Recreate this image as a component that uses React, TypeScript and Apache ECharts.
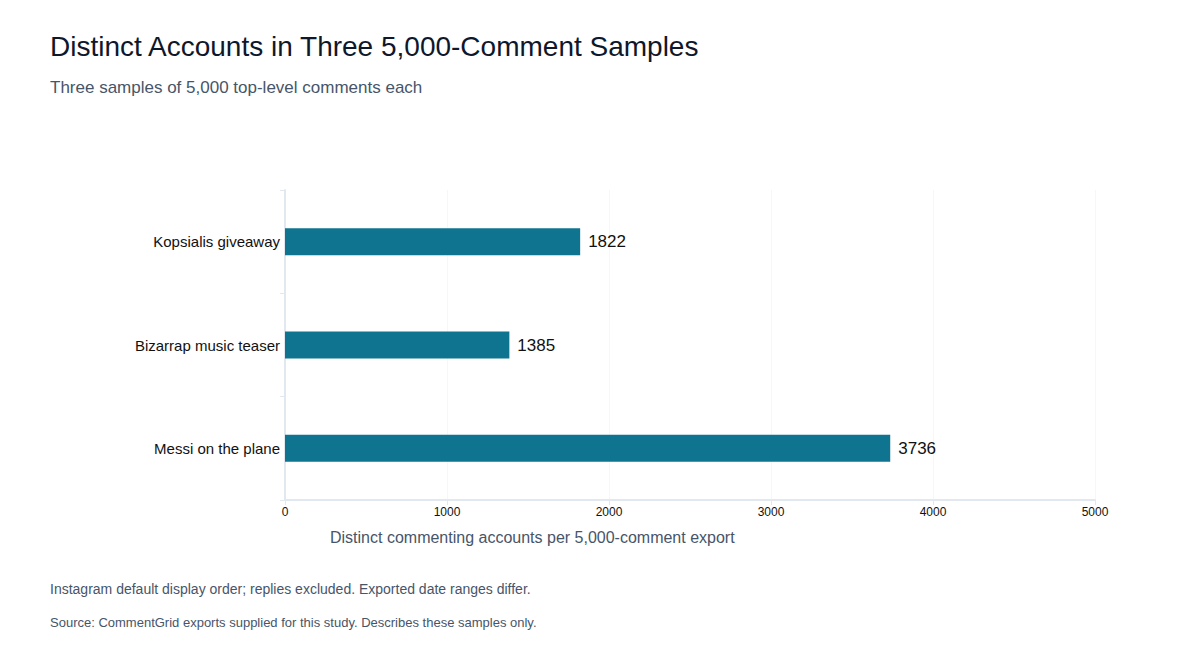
import { useEffect, useRef } from "react";
import * as echarts from "echarts";

const categories = ["Messi on the plane", "Bizarrap music teaser", "Kopsialis giveaway"];
const distinctAccounts = [3736, 1385, 1822];
const xTicks = { min: 0, max: 5000, interval: 1000 };

const FONT = "'Liberation Sans', Arial, Helvetica, sans-serif";

const App = () => {
  const chartRef = useRef<HTMLDivElement | null>(null);

  useEffect(() => {
    if (!chartRef.current) return;
    const chart = echarts.init(chartRef.current, null, { renderer: "svg" });

    const option = {
      animation: false,
      backgroundColor: "#ffffff",
      textStyle: { fontFamily: FONT },
      title: [
        {
          text: "Distinct Accounts in Three 5,000-Comment Samples",
          left: 50,
          top: 32,
          padding: 0,
          textStyle: { fontSize: 28, fontWeight: "normal", color: "#0f172a", fontFamily: FONT },
        },
        {
          text: "Three samples of 5,000 top-level comments each",
          left: 50,
          top: 79,
          padding: 0,
          textStyle: { fontSize: 17, fontWeight: "normal", color: "#475569", fontFamily: FONT },
        },
      ],
      graphic: [
        {
          type: "text",
          left: 330,
          top: 529,
          style: {
            text: "Distinct commenting accounts per 5,000-comment export",
            fontSize: 16,
            fill: "#475569",
            fontFamily: FONT,
          },
        },
        {
          type: "text",
          left: 50,
          top: 582,
          style: {
            text: "Instagram default display order; replies excluded. Exported date ranges differ.",
            fontSize: 14,
            fill: "#475569",
            fontFamily: FONT,
          },
        },
        {
          type: "text",
          left: 50,
          top: 616,
          style: {
            text: "Source: CommentGrid exports supplied for this study. Describes these samples only.",
            fontSize: 13,
            fill: "#475569",
            fontFamily: FONT,
          },
        },
      ],
      grid: { left: 285, right: 105, top: 190, bottom: 160, containLabel: false },
      xAxis: {
        type: "value",
        min: xTicks.min,
        max: xTicks.max,
        interval: xTicks.interval,
        axisLine: { show: true, lineStyle: { color: "#e2e8f0", width: 2 } },
        axisTick: { show: true, length: 5, lineStyle: { color: "#e2e8f0" } },
        axisLabel: {
          fontSize: 12,
          color: "#111111",
          margin: 6,
          fontFamily: FONT,
          formatter: (v: number) => String(v),
        },
        splitLine: { show: true, lineStyle: { color: "#f5f7fa", width: 1 } },
      },
      yAxis: {
        type: "category",
        data: categories,
        axisLine: { show: true, lineStyle: { color: "#e2e8f0", width: 2 } },
        axisTick: { show: true, length: 5, lineStyle: { color: "#e2e8f0" } },
        axisLabel: { fontSize: 15, color: "#111111", margin: 5, fontFamily: FONT },
        splitLine: { show: false },
      },
      series: [
        {
          type: "bar",
          data: distinctAccounts,
          barWidth: 27,
          itemStyle: { color: "#0e7490" },
          label: {
            show: true,
            position: "right",
            distance: 8,
            fontSize: 17,
            color: "#111111",
            fontFamily: FONT,
          },
        },
      ],
    };

    chart.setOption(option);
    return () => {
      chart.dispose();
    };
  }, []);

  return (
    <div
      ref={chartRef}
      style={{ position: "fixed", left: 0, top: 0, width: 1200, height: 660 }}
    />
  );
};

export default App;
